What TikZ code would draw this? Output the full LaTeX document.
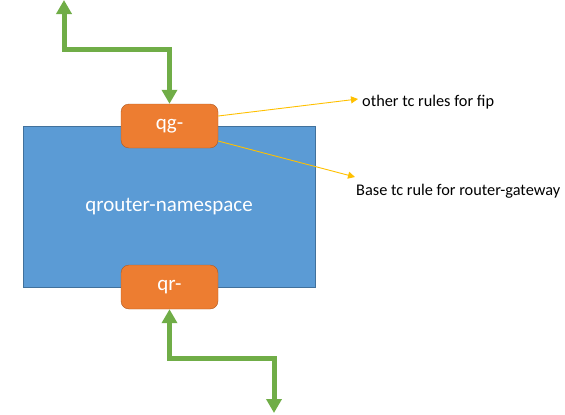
\documentclass[tikz,border=0pt]{standalone}
\usepackage{fontspec}
\setmainfont{Carlito}
\usetikzlibrary{arrows.meta}
\definecolor{nsblue}{HTML}{5B9BD5}
\definecolor{nsedge}{HTML}{41719C}
\definecolor{portorange}{HTML}{ED7D31}
\definecolor{portedge}{HTML}{AE5A21}
\definecolor{wire}{HTML}{70AD47}
\definecolor{note}{HTML}{FFC000}
\begin{document}
\begin{tikzpicture}[x=1pt,y=-1pt,
	port/.style={draw=portedge,fill=portorange,rounded corners=8pt,minimum width=97pt,minimum height=44pt,inner sep=0,text=white,font=\fontsize{21}{24}\selectfont},
	wirelink/.style={draw=wire,line width=5pt,{Triangle[width=15pt,length=14pt]}-{Triangle[width=15pt,length=14pt]}},
	notelink/.style={draw=note,line width=0.9pt,-{Triangle[width=7pt,length=7pt]}},
	notetext/.style={anchor=west,inner sep=0,font=\fontsize{16.3}{19}\selectfont}]
	\useasboundingbox (0,0) rectangle (565,415);
	\node[draw=nsedge,fill=nsblue,minimum width=292pt,minimum height=161pt,inner sep=0,text=white,font=\fontsize{21}{24}\selectfont] (ns) at (169,206.5) {\raisebox{-2pt}{qrouter-namespace}};
	\node[port] (qg) at (169.5,126) {qg-};
	\node[port] (qr) at (169.5,287) {qr-};
	\node[notetext] (fip) at (362,102) {other tc rules for fip};
	\node[notetext] (base) at (356,191) {Base tc rule for router-gateway};
	\coordinate (fipend) at (358,99);
	\coordinate (baseend) at (355,177);
	\coordinate (gwend) at (64,0);
	\coordinate (gwbend) at (64,49);
	\coordinate (extend) at (274,413);
	\coordinate (extbend) at (274,358);
	\draw[wirelink] (gwend) -- (gwbend) -| (qg.north);
	\draw[wirelink] (qr.south) |- (extbend) -- (extend);
	\draw[notelink] ([yshift=10pt]qg.east) -- (fipend);
	\draw[notelink] ([yshift=-15pt]qg.east) -- (baseend);
\end{tikzpicture}
\end{document}
